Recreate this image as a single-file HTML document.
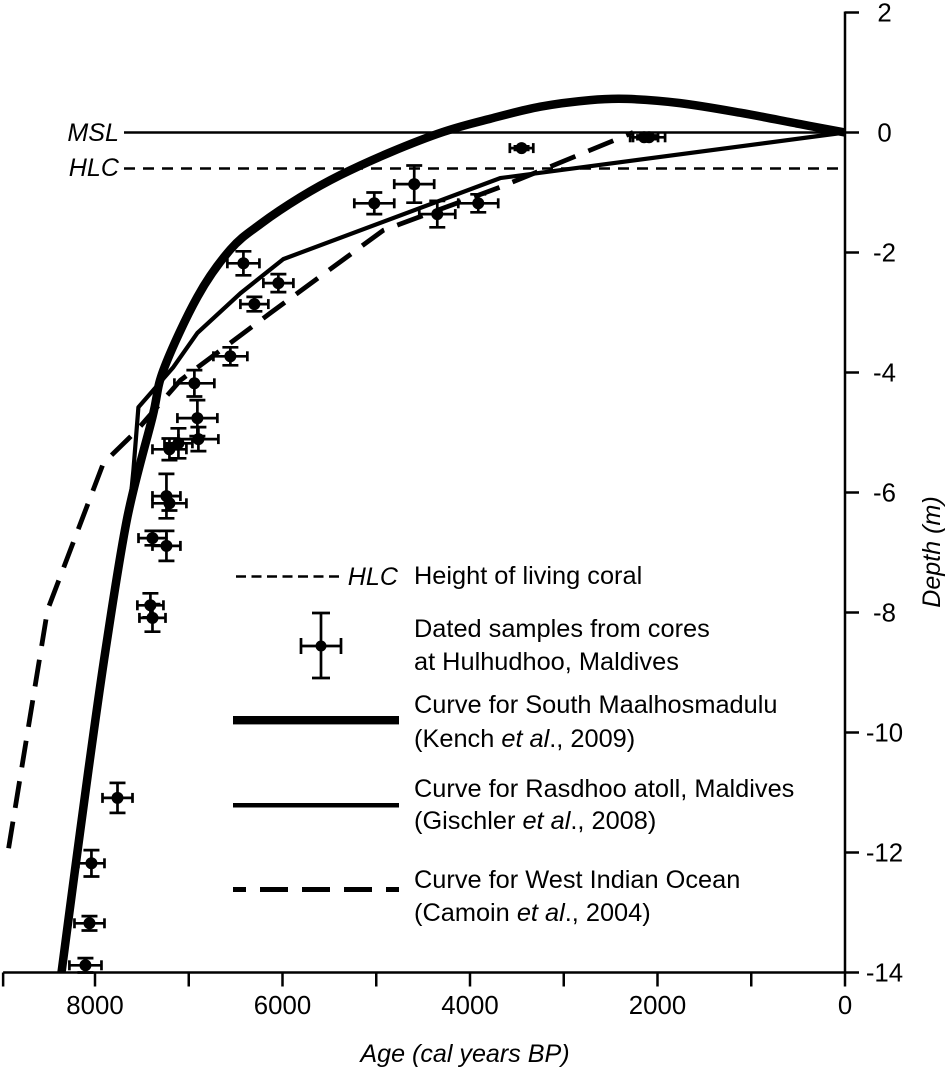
<!DOCTYPE html>
<html lang="en">
<head>
<meta charset="utf-8">
<title>Sea level curve chart</title>
<style>
html,body{margin:0;padding:0;background:#fff;}
svg{display:block;}
text{font-family:"Liberation Sans",Arial,sans-serif;fill:#000;}
</style>
</head>
<body>
<svg id="chart" width="947" height="1071" viewBox="0 0 947 1071" xmlns="http://www.w3.org/2000/svg">
  <rect x="0" y="0" width="947" height="1071" fill="#fff"/>
  <g id="marks"></g>

  <text x="119" y="141" text-anchor="end" font-size="25.1" font-style="italic">MSL</text>
  <text x="119" y="176" text-anchor="end" font-size="25.1" font-style="italic">HLC</text>

  <text x="465" y="1062" text-anchor="middle" font-size="25.1" font-style="italic">Age (cal years BP)</text>
  <text transform="translate(940,552) rotate(-90)" text-anchor="middle" font-size="25.1" font-style="italic">Depth (m)</text>

  <g>
    <line x1="236" y1="576.5" x2="342" y2="576.5" stroke="#000" stroke-width="2.5" stroke-dasharray="10 5.5"/>
    <text x="398" y="585" text-anchor="end" font-size="25.1" font-style="italic">HLC</text>
    <text x="414" y="584" font-size="25.35">Height of living coral</text>

    <g stroke="#000" stroke-width="2.7">
      <line x1="301" y1="646" x2="341" y2="646"/>
      <line x1="321" y1="613" x2="321" y2="678"/>
      <line x1="301" y1="638" x2="301" y2="654"/>
      <line x1="341" y1="638" x2="341" y2="654"/>
      <line x1="312" y1="613" x2="330" y2="613"/>
      <line x1="312" y1="678" x2="330" y2="678"/>
      <circle cx="321" cy="646" r="5.5" fill="#000" stroke="none"/>
    </g>
    <text x="414" y="637" font-size="25.35">Dated samples from cores</text>
    <text x="414" y="670" font-size="25.35">at Hulhudhoo, Maldives</text>

    <rect x="233" y="716" width="166" height="8.4" fill="#000"/>
    <text x="414" y="713" font-size="25.35">Curve for South Maalhosmadulu</text>
    <text x="414" y="747" font-size="25.35">(Kench <tspan font-style="italic">et al</tspan>., 2009)</text>

    <line x1="233" y1="805.3" x2="399" y2="805.3" stroke="#000" stroke-width="4.5"/>
    <text x="414" y="797" font-size="25.35">Curve for Rasdhoo atoll, Maldives</text>
    <text x="414" y="829" font-size="25.35">(Gischler <tspan font-style="italic">et al</tspan>., 2008)</text>

    <line x1="233" y1="889.5" x2="399" y2="889.5" stroke="#000" stroke-width="5" stroke-dasharray="28 14" stroke-dashoffset="15"/>
    <text x="414" y="888" font-size="25.35">Curve for West Indian Ocean</text>
    <text x="414" y="921" font-size="25.35">(Camoin <tspan font-style="italic">et al</tspan>., 2004)</text>
  </g>
</svg>
<script>
const xTickValues = [0, 1000, 2000, 3000, 4000, 5000, 6000, 7000, 8000, 8980];
const xTickLabels = [0, 2000, 4000, 6000, 8000];
const yTickLabels = [2, 0, -2, -4, -6, -8, -10, -12, -14];
const mslDepth = 0;
const hlcDepth = -0.6;

const kenchAges = [8357, 8213, 8070, 7888, 7654, 7387, 7270, 6908, 6556, 6230, 5810, 5383, 4850, 4285, 3784, 3251, 2718, 2324, 1759, 1119, 480, 0];
const kenchDepths = [-14, -12.29, -10.63, -8.63, -6.41, -4.74, -3.96, -2.74, -1.95, -1.52, -1.08, -0.71, -0.33, 0.01, 0.23, 0.43, 0.54, 0.56, 0.49, 0.33, 0.14, 0];

const gischlerAges = [0, 3678, 5991, 6449, 6908, 7164, 7537, 7590, 7643];
const gischlerDepths = [0, -0.76, -2.11, -2.68, -3.34, -3.91, -4.58, -5.63, -6.46];

const camoinAges = [8922, 8507, 7910, 7569, 7089, 6130, 4925, 3678, 3177, 2260];
const camoinDepths = [-11.93, -7.96, -5.51, -4.99, -4.13, -3.01, -1.63, -0.91, -0.59, 0];

const sampleAges = [3450, 2143, 2090, 4595, 5021, 4349, 3912, 6417, 6044, 6300, 6556, 6940, 6908, 6897, 7110, 7206, 7238, 7206, 7387, 7238, 7409, 7387, 7760, 8038, 8059, 8102];
const sampleDepths = [-0.26, -0.08, -0.08, -0.86, -1.18, -1.36, -1.18, -2.18, -2.51, -2.86, -3.73, -4.18, -4.76, -5.11, -5.18, -5.28, -6.06, -6.18, -6.76, -6.89, -7.88, -8.09, -11.09, -12.18, -13.18, -13.88];
const sampleAgeErrors = [125, 149, 171, 213, 213, 192, 213, 171, 160, 149, 181, 213, 213, 213, 149, 181, 149, 181, 149, 149, 139, 139, 160, 139, 160, 171];
const sampleDepthErrors = [0.03, 0.03, 0.03, 0.31, 0.18, 0.22, 0.15, 0.2, 0.15, 0.12, 0.15, 0.22, 0.3, 0.2, 0.25, 0.18, 0.37, 0.12, 0.12, 0.25, 0.2, 0.23, 0.25, 0.22, 0.12, 0.12];

const SVG_NS = 'http://www.w3.org/2000/svg';
const marks = document.getElementById('marks');

function xScale(age) { return 845 - age * 0.09375; }
function yScale(depth) { return 132.5 - depth * 60; }

function make(tag, props, parent) {
  const el = document.createElementNS(SVG_NS, tag);
  for (const key in props) el.setAttribute(key, props[key]);
  (parent || marks).appendChild(el);
  return el;
}

function linePoints(ages, depths) {
  return ages.map((a, i) => xScale(a).toFixed(1) + ',' + yScale(depths[i]).toFixed(1)).join(' ');
}

function smoothPath(ages, depths) {
  const p = ages.map((a, i) => [xScale(a), yScale(depths[i])]);
  let d = 'M' + p[0][0].toFixed(1) + ' ' + p[0][1].toFixed(1);
  for (let i = 0; i < p.length - 1; i++) {
    const p0 = p[Math.max(i - 1, 0)];
    const p1 = p[i];
    const p2 = p[i + 1];
    const p3 = p[Math.min(i + 2, p.length - 1)];
    const c1x = p1[0] + (p2[0] - p0[0]) / 6;
    const c1y = p1[1] + (p2[1] - p0[1]) / 6;
    const c2x = p2[0] - (p3[0] - p1[0]) / 6;
    const c2y = p2[1] - (p3[1] - p1[1]) / 6;
    d += 'C' + c1x.toFixed(1) + ' ' + c1y.toFixed(1) + ' ' + c2x.toFixed(1) + ' ' + c2y.toFixed(1) + ' ' + p2[0].toFixed(1) + ' ' + p2[1].toFixed(1);
  }
  return d;
}

/* reference lines */
const mslLine = make('line', {x1: 124, x2: xScale(0), y1: yScale(mslDepth), y2: yScale(mslDepth), stroke: '#000', 'stroke-width': 2.5});



const hlcLine = make('line', {x1: 124, x2: xScale(0), y1: yScale(hlcDepth), y2: yScale(hlcDepth), stroke: '#000', 'stroke-width': 2.5, 'stroke-dasharray': '11 8'});



/* samples */
sampleAges.forEach((age, i) => {
  const g = make('g', {stroke: '#000', 'stroke-width': 2.7});
  
  
  const cx = xScale(age);
  const cy = yScale(sampleDepths[i]);
  const x0 = xScale(age + sampleAgeErrors[i]);
  const x1 = xScale(age - sampleAgeErrors[i]);
  const y0 = yScale(sampleDepths[i] + sampleDepthErrors[i]);
  const y1 = yScale(sampleDepths[i] - sampleDepthErrors[i]);
  make('line', {x1: x0, x2: x1, y1: cy, y2: cy}, g);
  make('line', {x1: x0, x2: x0, y1: cy - 5, y2: cy + 5}, g);
  make('line', {x1: x1, x2: x1, y1: cy - 5, y2: cy + 5}, g);
  make('line', {x1: cx, x2: cx, y1: y0, y2: y1}, g);
  make('line', {x1: cx - 8, x2: cx + 8, y1: y0, y2: y0}, g);
  make('line', {x1: cx - 8, x2: cx + 8, y1: y1, y2: y1}, g);
  make('circle', {cx: cx, cy: cy, r: 6, fill: '#000', stroke: 'none'}, g);
});

/* curves */
const camoinCurve = make('polyline', {points: linePoints(camoinAges, camoinDepths), fill: 'none', stroke: '#000', 'stroke-width': 4.8, 'stroke-dasharray': '27 14', 'stroke-linejoin': 'round'});



const gischlerCurve = make('polyline', {points: linePoints(gischlerAges, gischlerDepths), fill: 'none', stroke: '#000', 'stroke-width': 4.2, 'stroke-linejoin': 'round'});



const kenchCurve = make('path', {d: smoothPath(kenchAges, kenchDepths), fill: 'none', stroke: '#000', 'stroke-width': 8.5, 'stroke-linejoin': 'round'});



/* axes */
const xAxis = make('line', {x1: xScale(8980), x2: xScale(0) + 1, y1: yScale(-14), y2: yScale(-14), stroke: '#000', 'stroke-width': 2.5});



const yAxis = make('line', {x1: xScale(0), x2: xScale(0), y1: yScale(2) - 1, y2: yScale(-14), stroke: '#000', 'stroke-width': 2.5});



xTickValues.forEach((v) => {
  const tick = make('line', {x1: xScale(v), x2: xScale(v), y1: yScale(-14), y2: yScale(-14) + 14, stroke: '#000', 'stroke-width': 2.5});
  
  
});

xTickLabels.forEach((v) => {
  const label = make('text', {x: xScale(v), y: 1014, 'text-anchor': 'middle', 'font-size': 25.8});
  
  
  label.textContent = String(v);
});

yTickLabels.forEach((v) => {
  const tick = make('line', {x1: xScale(0), x2: xScale(0) + 14, y1: yScale(v), y2: yScale(v), stroke: '#000', 'stroke-width': 2.5});
  
  
  const label = make('text', {x: 884.5, y: yScale(v) + 9, 'text-anchor': 'middle', 'font-size': 25.8});
  
  
  label.textContent = String(v);
});
</script>
</body>
</html>
